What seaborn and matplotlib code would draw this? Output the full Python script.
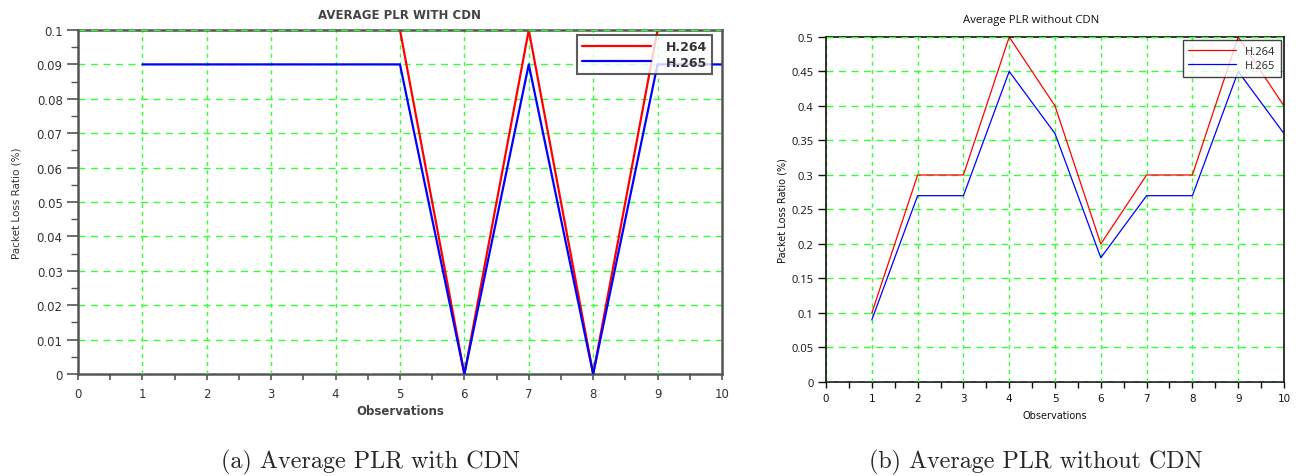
import matplotlib
matplotlib.use('Agg')
import matplotlib.pyplot as plt
import numpy as np
import pandas as pd
import seaborn as sns
from matplotlib.ticker import MultipleLocator

# data
observations = [1, 2, 3, 4, 5, 6, 7, 8, 9, 10]
codecs = ['H.264', 'H.265']

# (a) with CDN
plrCdn264 = [0.1, 0.1, 0.1, 0.1, 0.1, 0.0, 0.1, 0.0, 0.1, 0.1]
plrCdn265 = [0.09, 0.09, 0.09, 0.09, 0.09, 0.0, 0.09, 0.0, 0.09, 0.09]

# (b) without CDN
plrNoCdn264 = [0.1, 0.3, 0.3, 0.5, 0.4, 0.2, 0.3, 0.3, 0.5, 0.4]
plrNoCdn265 = [0.09, 0.27, 0.27, 0.45, 0.36, 0.18, 0.27, 0.27, 0.45, 0.36]

codecColors = {'H.264': '#ff0000', 'H.265': '#0000ff'}
gridGreen = '#33ff33'


def toLong(v264, v265):
    return pd.DataFrame({'obs': observations * 2,
                         'plr': v264 + v265,
                         'codec': [codecs[0]] * len(v264) + [codecs[1]] * len(v265)})


def styleAxes(ax, ymax, ystep, spineColor, spineWidth):
    ax.set_xlim(0, 10)
    ax.set_ylim(0, ymax)
    ax.xaxis.set_major_locator(MultipleLocator(1))
    ax.yaxis.set_major_locator(MultipleLocator(ystep))
    ax.xaxis.set_minor_locator(MultipleLocator(0.5))
    for name, s in ax.spines.items():
        s.set_visible(True)
        s.set_color(spineColor)
        s.set_linewidth(spineWidth)
    # grid under the curves, borders over everything
    ax.spines['left'].set_zorder(3)
    ax.spines['right'].set_zorder(3)
    ax.spines['top'].set_zorder(2.7)
    ax.spines['bottom'].set_zorder(2.2)
    ax.set_axisbelow(False)
    ax.grid(True, which='major', axis='y', color=gridGreen, linestyle=(0, (5, 4)), linewidth=1.0)
    ax.grid(True, which='major', axis='x', color=gridGreen, linestyle=(0, (3, 3)), linewidth=1.0)
    # green dashes drawn over the top border too
    ax.axhline(ax.get_ylim()[1], color=gridGreen, linestyle=(0, (5, 4)), linewidth=1.0, zorder=2.8)


sns.set_theme(style='white')
plt.rcParams['font.family'] = ['DejaVu Sans']

fig = plt.figure(figsize=(12.98, 4.77), dpi=100)
axA = fig.add_axes([0.0601, 0.2138, 0.4961, 0.7212])
axB = fig.add_axes([0.6364, 0.1971, 0.3528, 0.7233])

# ---- panel (a)
sns.lineplot(data=toLong(plrCdn264, plrCdn265), x='obs', y='plr', hue='codec',
             palette=codecColors, linewidth=1.6, ax=axA, zorder=2.6)
styleAxes(axA, 0.1, 0.01, '#555555', 1.8)
axA.yaxis.set_minor_locator(MultipleLocator(0.005))
axA.set_yticks(np.arange(0, 0.1001, 0.01))
axA.set_yticklabels(['0', '0.01', '0.02', '0.03', '0.04', '0.05', '0.06', '0.07', '0.08', '0.09', '0.1'])
axA.tick_params(axis='y', which='major', direction='out', length=8, width=1.2, color='#555555',
                labelsize=8.5, labelcolor='#333333', left=True, pad=3)
axA.tick_params(axis='y', which='minor', direction='out', length=5, width=1.0, color='#555555', left=True)
axA.tick_params(axis='x', which='both', direction='out', length=4, width=1.2, color='#555555',
                labelsize=8.5, labelcolor='#333333', bottom=True, pad=5)
axA.set_title('AVERAGE PLR WITH CDN', fontsize=8.5, fontweight='bold', color='#444444', pad=9)
axA.set_xlabel('Observations', fontsize=8.5, fontweight='bold', color='#444444', labelpad=3)
axA.set_ylabel('Packet Loss Ratio (%)', fontsize=7.5, color='#333333', labelpad=11)
legA = axA.legend(loc='upper right', bbox_to_anchor=(0.985, 0.985), fontsize=9, handlelength=5.5,
                  frameon=True, fancybox=False, borderpad=0.4, labelspacing=0.2, handletextpad=1.2,
                  borderaxespad=0)
legA.get_frame().set_edgecolor('#333333')
legA.get_frame().set_linewidth(1.5)
legA.set_zorder(5)
for t in legA.get_texts():
    t.set_color('#333333')
    t.set_fontweight('bold')

# ---- panel (b)
sns.lineplot(data=toLong(plrNoCdn264, plrNoCdn265), x='obs', y='plr', hue='codec',
             palette=codecColors, linewidth=0.9, ax=axB, zorder=2.6)
styleAxes(axB, 0.5, 0.05, '#111111', 1.2)
axB.set_yticks(np.arange(0, 0.5001, 0.05))
axB.set_yticklabels(['0', '0.05', '0.1', '0.15', '0.2', '0.25', '0.3', '0.35', '0.4', '0.45', '0.5'])
axB.tick_params(axis='y', which='major', direction='out', length=6, width=1.0, color='#111111',
                labelsize=8, labelcolor='#111111', left=True, pad=3)
axB.tick_params(axis='x', which='both', direction='out', length=4, width=1.0, color='#111111',
                labelsize=7.5, labelcolor='#111111', bottom=True, pad=4)
for lab in axB.get_yticklabels():
    lab.set_family('Open Sans')
axB.set_title('Average PLR without CDN', fontsize=8.2, color='#111111', pad=11, x=0.448,
              family='Open Sans')
axB.set_xlabel('Observations', fontsize=7, color='#111111', labelpad=5)
axB.set_ylabel('Packet Loss Ratio (%)', fontsize=7, color='#111111', labelpad=3)
legB = axB.legend(loc='upper right', bbox_to_anchor=(0.993, 0.99), handlelength=4.3,
                  frameon=True, fancybox=False, borderpad=0.5, labelspacing=0.3, handletextpad=0.8,
                  borderaxespad=0, prop={'family': 'Open Sans', 'size': 8})
legB.get_frame().set_edgecolor('#111111')
legB.get_frame().set_linewidth(1.0)
legB.set_zorder(5)

# ---- captions
fig.text(0.2858, 0.017, '(a) Average PLR with CDN', family='cmr10', fontsize=17.4, ha='center', va='baseline')
fig.text(0.798, 0.017, '(b) Average PLR without CDN', family='cmr10', fontsize=17.3, ha='center', va='baseline')

fig.savefig('out.png', dpi=100)
